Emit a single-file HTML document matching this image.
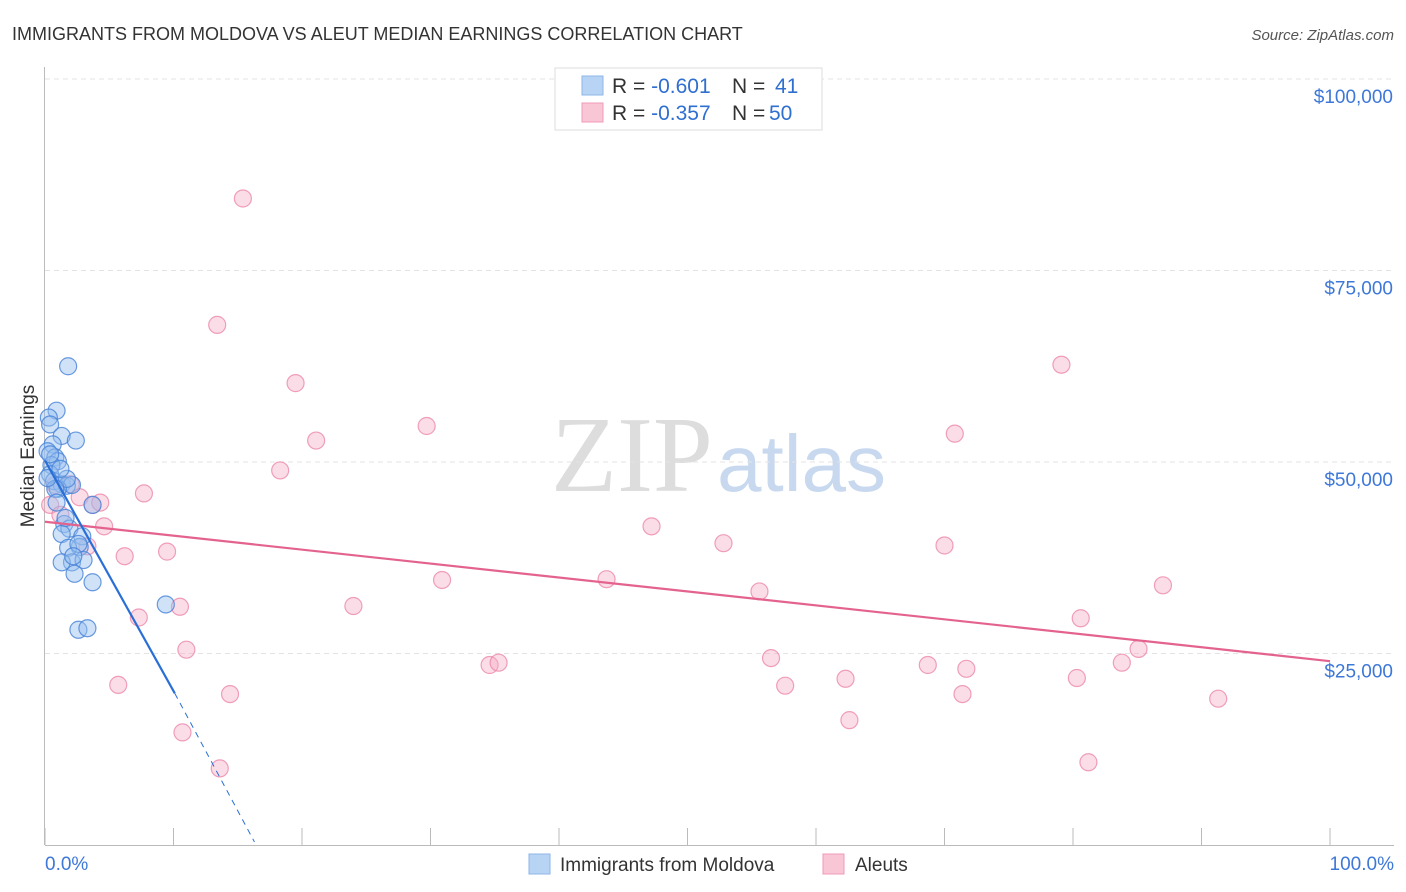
<!DOCTYPE html>
<html><head><meta charset="utf-8"><style>
body{margin:0;background:#fff;font-family:"Liberation Sans",sans-serif;}
svg{display:block}
</style></head><body>
<svg id="chart" width="1406" height="892">
<text x="12" y="40" font-size="18" fill="#333">IMMIGRANTS FROM MOLDOVA VS ALEUT MEDIAN EARNINGS CORRELATION CHART</text>
<text x="1394" y="40" font-size="15" fill="#555" font-style="italic" text-anchor="end">Source: ZipAtlas.com</text>
<text x="713" y="491" font-size="108" fill="#ddd" text-anchor="end" font-family="Liberation Serif,serif">ZIP</text>
<text x="717" y="491" font-size="80" fill="#c8d9ef">atlas</text>
<g id="grid"></g><g id="axes"></g><g id="marks"></g>
<g>
<rect x="555" y="68" width="267" height="62" fill="#fff" stroke="#ddd"/>
<rect x="582" y="76" width="21" height="19" fill="#b8d4f5" stroke="#8fb6e8"/>
<rect x="582" y="103" width="21" height="19" fill="#f9c6d6" stroke="#f09ab5"/>
<text x="612" y="93" font-size="21" fill="#333">R = <tspan fill="#2f6fd0">-0.601</tspan><tspan x="732">N = </tspan><tspan x="775" fill="#2f6fd0">41</tspan></text>
<text x="612" y="120" font-size="21" fill="#333">R = <tspan fill="#2f6fd0">-0.357</tspan><tspan x="732">N = </tspan><tspan x="769" fill="#2f6fd0">50</tspan></text>
</g>
<g>
<rect x="529" y="854" width="21" height="20" fill="#b8d4f5" stroke="#8fb6e8"/>
<text x="560" y="871" font-size="19" fill="#333">Immigrants from Moldova</text>
<rect x="823" y="854" width="21" height="20" fill="#f9c6d6" stroke="#f09ab5"/>
<text x="855" y="871" font-size="19" fill="#333">Aleuts</text>
</g>
</svg>
<script>
const yTicks=[25000,50000,75000,100000];
const yTickLabels=["$25,000","$50,000","$75,000","$100,000"];
const blueX=[1.8,0.9,0.3,0.4,1.3,2.4,0.6,0.2,0.8,1.0,0.5,0.4,0.7,1.3,1.7,2.1,1.0,1.7,3.7,1.5,1.9,1.3,2.9,2.7,1.8,2.6,2.1,3.0,1.3,2.3,3.7,9.4,2.6,3.3,0.8,1.2,0.4,0.9,1.6,2.2,0.2];
const blueY=[62500,56700,55800,54900,53400,52800,52300,51400,50600,50100,49600,48400,47500,47100,46900,47000,46500,47800,44400,41900,41300,40600,40300,38900,38800,39300,36900,37200,36900,35400,34300,31400,28100,28300,46500,49100,51000,44700,42700,37700,47900];
const pinkX=[15.4,13.4,19.5,29.7,21.1,18.3,7.7,2.0,2.7,3.7,4.6,47.2,52.8,9.5,6.2,3.3,70.0,30.9,43.7,55.6,87.0,10.5,24.0,7.3,80.6,11.0,85.1,34.6,35.3,56.5,68.7,71.7,83.8,5.7,14.4,57.6,62.3,80.3,71.4,91.3,62.6,10.7,13.6,81.2,79.1,70.8,0.8,0.4,1.2,4.3];
const pinkY=[84400,67900,60300,54700,52800,48900,45900,47100,45400,44400,41600,41600,39400,38300,37700,39000,39100,34600,34700,33100,33900,31100,31200,29700,29600,25500,25600,23500,23800,24400,23500,23000,23800,20900,19700,20800,21700,21800,19700,19100,16300,14700,10000,10800,62700,53700,47000,44400,43100,44700];
const blueLine=[[0,50200],[10.1,19800]];
const blueDash=[[10.1,19800],[16.3,400]];
const pinkLine=[[0,42200],[100,24000]];
const xTickLabels=["0.0%","100.0%"];
const X0=45,X1=1330,Y0=845,Y100=79;
const sx=v=>X0+(X1-X0)*v/100;
const sy=v=>Y0-(Y0-Y100)*v/100000;
const NS="http://www.w3.org/2000/svg";
function mk(p,t,a){const e=document.createElementNS(NS,t);for(const k in a)e.setAttribute(k,a[k]);p.appendChild(e);return e;}
const grid=document.getElementById('grid'),axes=document.getElementById('axes'),marks=document.getElementById('marks');
yTicks.forEach((v,i)=>{
 const g=mk(grid,'line',{x1:45,x2:1394,y1:sy(v),y2:sy(v),stroke:'#e3e3e3','stroke-dasharray':'5,4'});
 
 
 const t=mk(axes,'text',{x:1393,y:sy(v)+24,'font-size':19,fill:'#3d78d8','text-anchor':'end'});t.textContent=yTickLabels[i];
 
 
});
const ya=mk(axes,'line',{x1:44.5,x2:44.5,y1:67,y2:845,stroke:'#bbb'});


const xa=mk(axes,'line',{x1:45,x2:1394,y1:845.5,y2:845.5,stroke:'#bbb'});


for(let i=0;i<=10;i++){const l=mk(axes,'line',{x1:sx(i*10),x2:sx(i*10),y1:828,y2:845,stroke:'#bbb'});
 
 }
[[xTickLabels[0],45,'start'],[xTickLabels[1],1394,'end']].forEach(([s,x,a])=>{const t=mk(axes,'text',{x:x,y:870,'font-size':19,fill:'#3d78d8','text-anchor':a});t.textContent=s;
 
 });
const yt=mk(axes,'text',{x:34,y:456,'font-size':19,fill:'#333','text-anchor':'middle',transform:'rotate(-90 34 456)'});yt.textContent='Median Earnings';


pinkX.forEach((x,i)=>{const c=mk(marks,'circle',{cx:sx(x),cy:sy(pinkY[i]),r:8.5,fill:'rgba(246,170,195,0.4)',stroke:'rgba(235,130,165,0.75)','stroke-width':1.2});
 
 });
blueX.forEach((x,i)=>{const c=mk(marks,'circle',{cx:sx(x),cy:sy(blueY[i]),r:8.5,fill:'rgba(150,190,240,0.45)',stroke:'rgba(70,130,215,0.8)','stroke-width':1.2});
 
 });
const pl=mk(marks,'line',{x1:sx(pinkLine[0][0]),y1:sy(pinkLine[0][1]),x2:sx(pinkLine[1][0]),y2:sy(pinkLine[1][1]),stroke:'#e4638e','stroke-width':2.2});


const bl=mk(marks,'line',{x1:sx(blueLine[0][0]),y1:sy(blueLine[0][1]),x2:sx(blueLine[1][0]),y2:sy(blueLine[1][1]),stroke:'#2a6fd6','stroke-width':2.2});


const bd=mk(marks,'line',{x1:sx(blueDash[0][0]),y1:sy(blueDash[0][1]),x2:sx(blueDash[1][0]),y2:sy(blueDash[1][1]),stroke:'#2a6fd6','stroke-width':1,'stroke-dasharray':'6,5'});


</script>
</body></html>
